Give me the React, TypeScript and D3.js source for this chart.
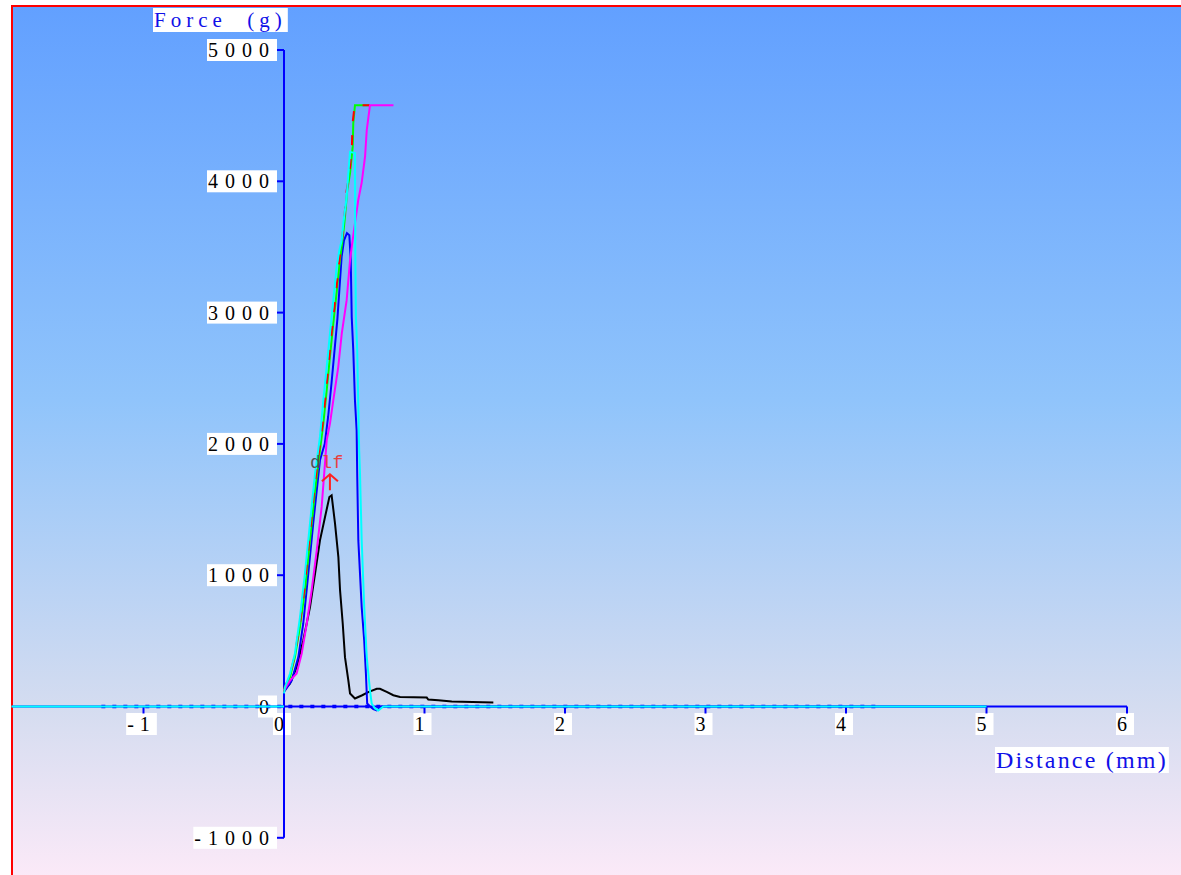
import React, { useEffect, useRef } from "react";
import * as d3 from "d3";

const W = 1181;
const H = 875;

const yTicks = [5000, 4000, 3000, 2000, 1000, 0, -1000];
const yTickLabels = ["5000", "4000", "3000", "2000", "1000", "0", "-1000"];
const xTicks = [-1, 0, 1, 2, 3, 4, 5, 6];
const xTickLabels = ["-1", "0", "1", "2", "3", "4", "5", "6"];

// Distance (mm) / Force (g) per series
const distRed = [0, 0.006, 0.04, 0.075, 0.11, 0.145, 0.18, 0.215, 0.25, 0.276, 0.3, 0.322, 0.346, 0.37, 0.394, 0.418, 0.43, 0.446, 0.466, 0.483, 0.488, 0.503, 0.612];
const forceRed = [110, 150, 230, 380, 610, 890, 1270, 1650, 1950, 2160, 2410, 2660, 2920, 3150, 3400, 3600, 3730, 3930, 4060, 4260, 4440, 4580, 4580];

const distGreen = [0, 0.007, 0.043, 0.078, 0.114, 0.149, 0.185, 0.221, 0.256, 0.28, 0.304, 0.327, 0.351, 0.374, 0.398, 0.422, 0.434, 0.45, 0.47, 0.489, 0.493, 0.505, 0.612];
const forceGreen = [120, 147, 224, 376, 606, 886, 1265, 1646, 1950, 2155, 2410, 2663, 2918, 3147, 3400, 3604, 3728, 3931, 4061, 4262, 4440, 4580, 4580];

const distMagenta = [0, 0.043, 0.09, 0.126, 0.162, 0.197, 0.233, 0.268, 0.304, 0.327, 0.351, 0.386, 0.411, 0.446, 0.47, 0.482, 0.505, 0.529, 0.553, 0.577, 0.589, 0.612, 0.779];
const forceMagenta = [122, 198, 251, 404, 632, 886, 1190, 1520, 2027, 2155, 2333, 2585, 2840, 3095, 3400, 3500, 3680, 3860, 3990, 4190, 4390, 4580, 4580];

const distBlue = [0, 0.055, 0.102, 0.137, 0.173, 0.208, 0.256, 0.29, 0.314, 0.338, 0.38, 0.41, 0.427, 0.448, 0.465, 0.475, 0.482, 0.493, 0.505, 0.517, 0.521, 0.529, 0.553, 0.571, 0.583, 0.592, 0.612, 0.636, 0.66, 0.696, 5.0];
const forceBlue = [110, 198, 376, 632, 1013, 1395, 1875, 2000, 2205, 2460, 2950, 3424, 3550, 3605, 3590, 3400, 2967, 2713, 2332, 2104, 1773, 1265, 757, 500, 251, 23, 0, -20, -30, 0, 0];

const distCyan = [0, 0.007, 0.043, 0.078, 0.114, 0.149, 0.185, 0.221, 0.256, 0.28, 0.304, 0.327, 0.351, 0.375, 0.394, 0.411, 0.422, 0.446, 0.458, 0.47, 0.505, 0.506, 0.507, 0.512, 0.521, 0.528, 0.535, 0.541, 0.553, 0.571, 0.589, 0.612, 0.624, 0.648, 0.671, 0.707, 5.0];
const forceCyan = [100, 147, 251, 404, 681, 1013, 1395, 1773, 2053, 2333, 2585, 2840, 3095, 3350, 3476, 3552, 3680, 3882, 4061, 4224, 4215, 3900, 3476, 2967, 2713, 2332, 1951, 1773, 1265, 757, 376, 122, 23, -15, -30, 0, 0];

const distBlack = [0, 0.043, 0.09, 0.137, 0.185, 0.221, 0.256, 0.292, 0.323, 0.339, 0.363, 0.387, 0.399, 0.418, 0.434, 0.458, 0.47, 0.505, 0.553, 0.6, 0.66, 0.683, 0.731, 0.778, 0.826, 1.016, 1.027, 1.098, 1.194, 1.49];
const forceBlack = [122, 175, 300, 503, 757, 1013, 1265, 1443, 1595, 1608, 1395, 1138, 884, 632, 376, 198, 99, 61, 84, 109, 135, 135, 111, 86, 73, 68, 53, 48, 38, 30];

const distBaseline = [-1.94, 0];
const forceBaseline = [0, 0];
const distBaseDash = [-1.3, 4.25];
const forceBaseDash = [0, 0];

const peakLabel = "dlf";
const peakDist = 0.334;
const peakForce = 1608;

export default function App() {
  const ref = useRef<SVGSVGElement>(null);

  useEffect(() => {
    const svg = d3.select(ref.current);
    svg.selectAll("*").remove();

    const x = d3.scaleLinear().domain([0, 6]).range([284, 1127]);
    const y = d3.scaleLinear().domain([-1000, 5000]).range([837.8, 50]);

    const defs = svg.append("defs");
    const grad = defs
      .append("linearGradient")
      .attr("id", "bg")
      .attr("x1", 0)
      .attr("y1", 0)
      .attr("x2", 0)
      .attr("y2", 1);
    [
      [0, "#62A0FF"],
      [0.45, "#90C4FB"],
      [0.8, "#D4DCF0"],
      [1, "#FCEAF8"],
    ].forEach(([o, c]) =>
      grad.append("stop").attr("offset", o as number).attr("stop-color", c as string)
    );

    svg.append("rect").attr("x", 0).attr("y", 0).attr("width", W).attr("height", H).attr("fill", "#ffffff");
    svg.append("rect").attr("x", 12).attr("y", 6).attr("width", W).attr("height", H).attr("fill", "url(#bg)");
    svg.append("line").attr("x1", 12).attr("x2", 12).attr("y1", 5).attr("y2", H).attr("stroke", "#FF0000").attr("stroke-width", 2);
    svg.append("line").attr("x1", 11).attr("x2", W).attr("y1", 6).attr("y2", 6).attr("stroke", "#FF0000").attr("stroke-width", 2);

    const labels = svg.append("g");
    const addLabel = (
      text: string,
      lx: number,
      ly: number,
      anchor: string,
      size: number,
      color: string,
      spacing: number,
      family = "'Liberation Serif', 'Times New Roman', serif"
    ) => {
      const g = labels.append("g");
      const rect = g.append("rect").attr("fill", "#ffffff");
      const t = g
        .append("text")
        .attr("x", lx)
        .attr("y", ly)
        .attr("text-anchor", anchor)
        .attr("font-family", family)
        .attr("font-size", size)
        .attr("fill", color)
        .style("letter-spacing", `${spacing}px`)
        .style("white-space", "pre")
        .text(text);
      const b = (t.node() as SVGTextElement).getBBox();
      rect
        .attr("x", b.x - 1)
        .attr("y", b.y)
        .attr("width", b.width + 2)
        .attr("height", b.height);
    };

    yTicks.forEach((v, i) => addLabel(yTickLabels[i], 276, y(v) + 7, "end", 20, "#000000", 7));
    xTicks.forEach((v, i) => addLabel(xTickLabels[i], x(v) - 2, 731, "middle", 20, "#000000", 6));
    addLabel("Force  (g)", 154, 27, "start", 21, "#1010E8", 5);
    addLabel("Distance (mm)", 996, 768, "start", 24, "#1010E8", 2.2);

    const axes = svg.append("g").attr("stroke", "#0000FF").attr("stroke-width", 2).attr("fill", "none");
    axes.append("line").attr("x1", x(0)).attr("x2", x(0)).attr("y1", y(5000)).attr("y2", y(-1000));
    yTicks.forEach((v) =>
      axes.append("line").attr("x1", x(0) - 7).attr("x2", x(0)).attr("y1", y(v)).attr("y2", y(v))
    );
    axes.append("line").attr("x1", 12).attr("x2", x(6)).attr("y1", y(0)).attr("y2", y(0));
    xTicks.forEach((v) =>
      axes.append("line").attr("x1", x(v)).attr("x2", x(v)).attr("y1", y(0)).attr("y2", y(0) + 7)
    );

    const line = d3
      .line<[number, number]>()
      .x((d) => x(d[0]))
      .y((d) => y(d[1]));

    const series: [number[], number[], string, number, string | null][] = [
      [distBaseDash, forceBaseDash, "#0000FF", 3.5, "4,7"],
      [distBaseline, forceBaseline, "#00FFFF", 2, null],
      [distBlack, forceBlack, "#000000", 2, null],
      [distBlue, forceBlue, "#0000FF", 2, null],
      [distGreen, forceGreen, "#00FF00", 2, null],
      [distRed, forceRed, "#FF0000", 2, "10,14"],
      [distMagenta, forceMagenta, "#FF00FF", 2, null],
      [distCyan, forceCyan, "#00FFFF", 2, null],
    ];
    const lines = svg.append("g").attr("fill", "none");
    series.forEach(([xs, ys, color, w, dash]) => {
      const p = lines
        .append("path")
        .attr("d", line(d3.zip(xs, ys) as [number, number][]))
        .attr("stroke", color)
        .attr("stroke-width", w)
        .attr("stroke-linejoin", "miter");
      if (dash) p.attr("stroke-dasharray", dash);
    });

    // peak annotation
    const ann = svg.append("g");
    const px = x(peakDist) - 1;
    const py = y(peakForce);
    ann
      .append("path")
      .attr("d", `M${px},${py - 5} L${px},${py - 21} M${px - 8},${py - 14} L${px},${py - 21} L${px + 8},${py - 14}`)
      .attr("stroke", "#FF2020")
      .attr("stroke-width", 2)
      .attr("fill", "none");
    const t = ann
      .append("text")
      .attr("x", px - 20)
      .attr("y", py - 27)
      .attr("font-family", "'Liberation Mono', 'DejaVu Sans Mono', monospace")
      .attr("font-size", 18)
      .attr("fill", "#E84040")
      .style("letter-spacing", "0.5px");
    t.append("tspan").attr("fill", "#505050").text(peakLabel.slice(0, 1));
    t.append("tspan").text(peakLabel.slice(1));
  }, []);

  return (
    <svg
      ref={ref}
      width={W}
      height={H}
      style={{ position: "absolute", left: 0, top: 0, display: "block" }}
    />
  );
}
